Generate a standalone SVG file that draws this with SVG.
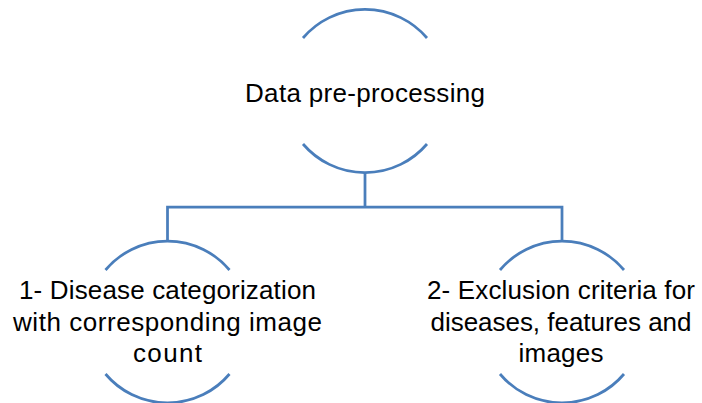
<svg xmlns="http://www.w3.org/2000/svg" width="702" height="403" viewBox="0 0 702 403">
<style>
.arc{fill:none;stroke:#4A7EBB;stroke-width:2.75}
.conn{fill:none;stroke:#4A7EBB;stroke-width:2.75;stroke-linejoin:miter}
.t{font-family:"Liberation Sans",Arial,sans-serif;font-size:26px;fill:#000;text-anchor:middle}
</style>
<rect width="702" height="403" fill="#fff"/>
<g id="connectors">
<path class="conn" d="M365,172 V207 M167.5,241 V207 H562 V241"/>
</g>
<g id="node-top">
<path class="arc" d="M303,38 A81.5,81.5 0 0 1 427,38"/>
<path class="arc" d="M303,144 A81.5,81.5 0 0 0 427,144"/>
<text class="t" x="365" y="102" textLength="240">Data pre-processing</text>
</g>
<g id="node-left">
<path class="arc" d="M105.5,270 A81,81 0 0 1 229.5,270"/>
<path class="arc" d="M105.5,374 A81,81 0 0 0 229.5,374"/>
<text class="t" x="167.5" y="299" textLength="297">1- Disease categorization</text>
<text class="t" x="167.5" y="331" textLength="309">with corresponding image</text>
<text class="t" x="167.5" y="362" textLength="69">count</text>
</g>
<g id="node-right">
<path class="arc" d="M500,270 A81,81 0 0 1 624,270"/>
<path class="arc" d="M500,374 A81,81 0 0 0 624,374"/>
<text class="t" x="561" y="299" textLength="268">2- Exclusion criteria for</text>
<text class="t" x="561" y="331" textLength="261">diseases, features and</text>
<text class="t" x="561" y="362" textLength="85">images</text>
</g>
</svg>
